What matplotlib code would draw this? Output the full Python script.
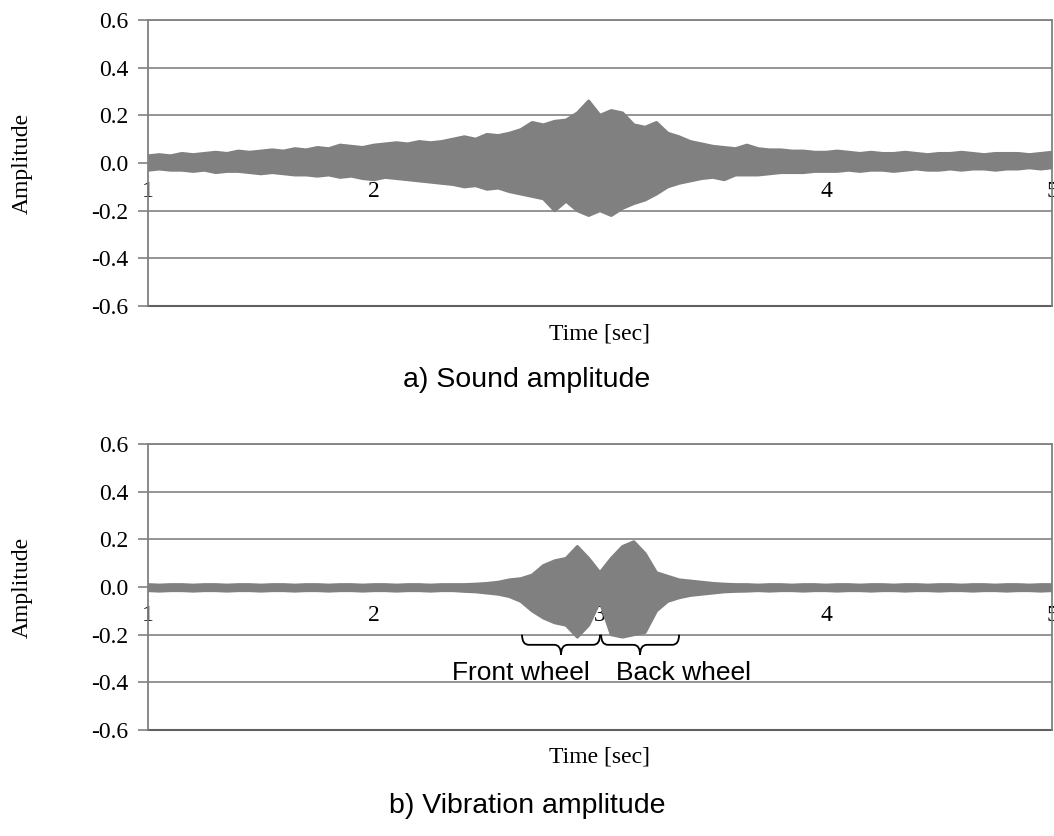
import matplotlib
matplotlib.use("Agg")
import matplotlib.pyplot as plt
from matplotlib.path import Path
from matplotlib.patches import PathPatch
import numpy as np

# ---------------- datos (envolventes) ----------------
t = np.round(np.arange(1.0, 5.0001, 0.05), 2)

sound_up = [0.03, 0.035, 0.03, 0.04, 0.035, 0.04, 0.045, 0.04, 0.05, 0.045,
            0.05, 0.055, 0.05, 0.06, 0.055, 0.065, 0.06, 0.075, 0.07, 0.065,
            0.075, 0.08, 0.085, 0.08, 0.09, 0.085, 0.09, 0.10, 0.11, 0.10,
            0.12, 0.115, 0.125, 0.14, 0.17, 0.16, 0.175, 0.18, 0.21, 0.26,
            0.20, 0.22, 0.21, 0.16, 0.15, 0.17, 0.125, 0.11, 0.09, 0.08,
            0.07, 0.065, 0.06, 0.075, 0.06, 0.055, 0.055, 0.05, 0.05, 0.045,
            0.045, 0.05, 0.045, 0.04, 0.045, 0.04, 0.04, 0.045, 0.04, 0.035,
            0.04, 0.04, 0.045, 0.04, 0.035, 0.04, 0.04, 0.04, 0.035, 0.04, 0.045]

sound_low = [-0.03, -0.025, -0.03, -0.03, -0.035, -0.03, -0.04, -0.035, -0.035, -0.04,
             -0.045, -0.04, -0.045, -0.05, -0.05, -0.055, -0.05, -0.06, -0.055, -0.065,
             -0.07, -0.06, -0.065, -0.07, -0.075, -0.08, -0.085, -0.09, -0.10, -0.095,
             -0.11, -0.105, -0.12, -0.13, -0.14, -0.15, -0.20, -0.16, -0.20, -0.22,
             -0.20, -0.22, -0.19, -0.17, -0.155, -0.13, -0.10, -0.085, -0.075, -0.065,
             -0.06, -0.07, -0.05, -0.05, -0.05, -0.045, -0.04, -0.04, -0.04, -0.035,
             -0.035, -0.035, -0.03, -0.035, -0.03, -0.03, -0.035, -0.03, -0.025, -0.03,
             -0.03, -0.025, -0.03, -0.025, -0.025, -0.03, -0.025, -0.025, -0.02, -0.025, -0.02]

vib_up = [0.01, 0.008, 0.01, 0.01, 0.008, 0.01, 0.01, 0.008, 0.01, 0.01,
          0.008, 0.01, 0.01, 0.008, 0.01, 0.01, 0.008, 0.01, 0.01, 0.008,
          0.01, 0.01, 0.008, 0.01, 0.01, 0.008, 0.01, 0.01, 0.01, 0.012,
          0.015, 0.02, 0.03, 0.035, 0.05, 0.09, 0.11, 0.12, 0.17, 0.12,
          0.06, 0.12, 0.17, 0.19, 0.14, 0.06, 0.045, 0.03, 0.025, 0.02,
          0.015, 0.012, 0.01, 0.01, 0.008, 0.01, 0.01, 0.008, 0.01, 0.01,
          0.008, 0.01, 0.01, 0.008, 0.01, 0.01, 0.008, 0.01, 0.01, 0.008,
          0.01, 0.01, 0.008, 0.01, 0.01, 0.008, 0.01, 0.01, 0.008, 0.01, 0.01]

vib_low = [-0.015, -0.017, -0.015, -0.015, -0.017, -0.015, -0.015, -0.017, -0.015, -0.015,
           -0.017, -0.015, -0.015, -0.017, -0.015, -0.015, -0.017, -0.015, -0.015, -0.017,
           -0.015, -0.015, -0.017, -0.015, -0.015, -0.017, -0.015, -0.015, -0.018, -0.02,
           -0.025, -0.03, -0.04, -0.06, -0.10, -0.13, -0.15, -0.16, -0.21, -0.16,
           -0.06, -0.20, -0.21, -0.20, -0.19, -0.10, -0.06, -0.045, -0.035, -0.03,
           -0.025, -0.02, -0.018, -0.017, -0.015, -0.017, -0.015, -0.015, -0.017, -0.015,
           -0.015, -0.017, -0.015, -0.015, -0.017, -0.015, -0.015, -0.017, -0.015, -0.015,
           -0.017, -0.015, -0.015, -0.017, -0.015, -0.015, -0.017, -0.015, -0.015, -0.017, -0.015]

y_ticks = [-0.6, -0.4, -0.2, 0.0, 0.2, 0.4, 0.6]
x_ticks = [1, 2, 3, 4, 5]

gris = "#808080"
serif = "Liberation Serif"
sans = "Liberation Sans"

plt.rcParams["font.family"] = serif
plt.rcParams["font.size"] = 17


# ---------------- funciones ----------------
def Panel(ax, up, low):
    ax.fill_between(t, low, up, color=gris, lw=0)
    ax.plot(t, up, color=gris, lw=2.2)
    ax.plot(t, low, color=gris, lw=2.2)
    ax.set_xlim(1, 5)
    ax.set_ylim(-0.6, 0.6)
    ax.spines["bottom"].set_position(("data", 0))
    ax.spines["bottom"].set_visible(False)
    ax.set_yticks(y_ticks)
    ax.set_yticklabels(["%.1f" % v for v in y_ticks])
    ax.set_xticks(x_ticks)
    ax.set_xticklabels([str(v) for v in x_ticks])
    ax.tick_params(axis="x", length=0, pad=13)
    ax.tick_params(axis="y", length=7, color=gris, width=1.2, pad=7)
    ax.yaxis.grid(True, color="#8c8c8c", lw=1.3)
    ax.set_axisbelow(True)
    for s in ["left", "top", "right"]:
        ax.spines[s].set_color(gris)
        ax.spines[s].set_linewidth(1.3)
    ax.axhline(-0.6, color="#606060", lw=1.5, clip_on=False)
    ax.set_ylabel("Amplitude")
    ax.yaxis.set_label_coords(-0.128, 0.5)


def Llave(ax, x1, x2, ytop, ybot):
    xm = (x1 + x2) / 2
    ymid = (ytop + ybot) / 2
    r = 0.03
    verts = [(x1, ytop), (x1, ymid), (x1 + r, ymid),
             (xm - r, ymid), (xm, ymid), (xm, ybot),
             (xm, ymid), (xm + r, ymid),
             (x2 - r, ymid), (x2, ymid), (x2, ytop)]
    codes = [Path.MOVETO, Path.CURVE3, Path.CURVE3,
             Path.LINETO, Path.CURVE3, Path.CURVE3,
             Path.CURVE3, Path.CURVE3,
             Path.LINETO, Path.CURVE3, Path.CURVE3]
    ax.add_patch(PathPatch(Path(verts, codes), fill=False, lw=1.3, color="black", clip_on=False))


# ---------------- graficas ----------------
fig = plt.figure(figsize=(10.54, 8.36), dpi=100)
ax1 = fig.add_axes([0.1404, 0.634, 0.8577, 0.342])
ax2 = fig.add_axes([0.1404, 0.1268, 0.8577, 0.342])

Panel(ax1, sound_up, sound_low)
Panel(ax2, vib_up, vib_low)

Llave(ax2, 2.655, 3.0, -0.20, -0.285)
Llave(ax2, 3.005, 3.35, -0.20, -0.285)
ax2.text(2.65, -0.36, "Front wheel", family=sans, fontsize=19, ha="center", va="center")
ax2.text(3.37, -0.36, "Back wheel", family=sans, fontsize=19, ha="center", va="center")

fig.text(0.569, 0.6005, "Time [sec]", fontsize=17, ha="center", va="center")
fig.text(0.5, 0.5455, "a) Sound amplitude", family=sans, fontsize=20.5, ha="center", va="center")
fig.text(0.569, 0.0945, "Time [sec]", fontsize=17, ha="center", va="center")
fig.text(0.5, 0.0359, "b) Vibration amplitude", family=sans, fontsize=20.5, ha="center", va="center")

fig.savefig("out.png", dpi=100)
